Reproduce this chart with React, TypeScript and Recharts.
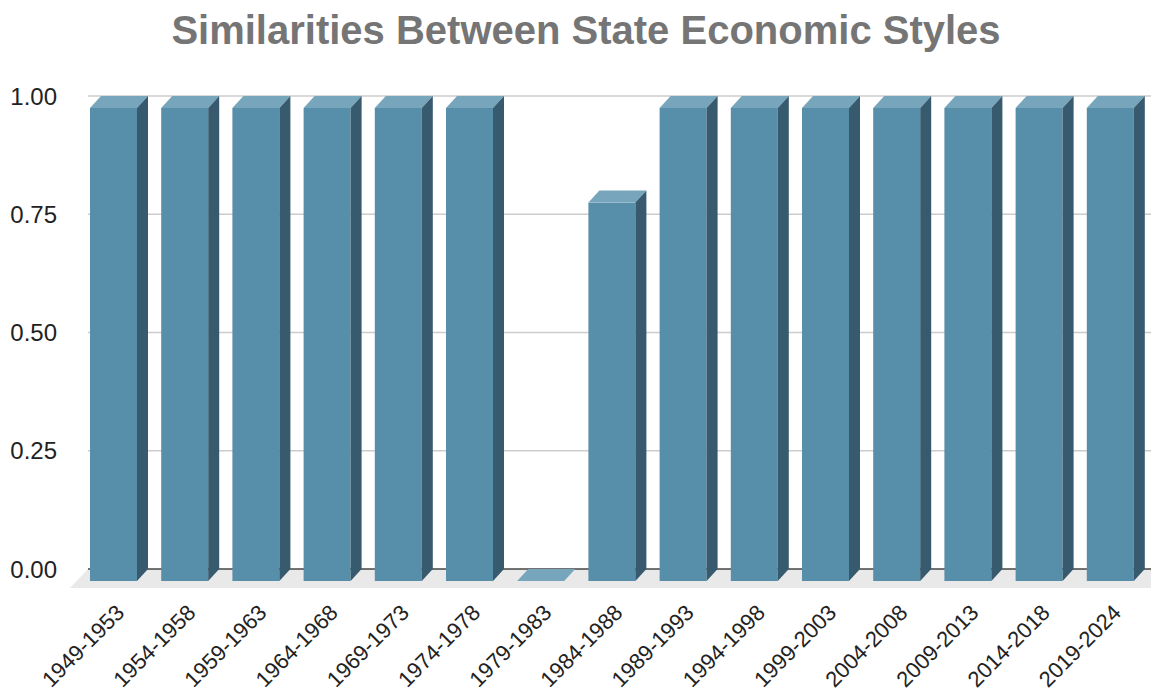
import React from 'react'
import {
  Bar,
  BarChart,
  CartesianGrid,
  ReferenceArea,
  XAxis,
  YAxis,
} from 'recharts'

const periods = [
  '1949-1953',
  '1954-1958',
  '1959-1963',
  '1964-1968',
  '1969-1973',
  '1974-1978',
  '1979-1983',
  '1984-1988',
  '1989-1993',
  '1994-1998',
  '1999-2003',
  '2004-2008',
  '2009-2013',
  '2014-2018',
  '2019-2024',
]
const similarity = [1, 1, 1, 1, 1, 1, 0, 0.8, 1, 1, 1, 1, 1, 1, 1]
const yTicks = [0, 0.25, 0.5, 0.75, 1]

const data = periods.map((period, i) => ({ period, value: similarity[i] }))

const FONT = '"Liberation Sans", Arial, sans-serif'
const DX = 11 // depth offset of the 3D bars
const DY = 12

const Bar3D = (props: any) => {
  const { x, y, width: w, height: h } = props
  if (x == null || y == null) return null
  const front = '#578fab'
  const side = '#375a6e'
  const top = '#77a5bb'
  return (
    <g>
      <rect x={x} y={y + DY} width={w} height={Math.max(h, 0)} fill={front} />
      <polygon
        points={`${x},${y + DY} ${x + DX},${y} ${x + w + DX},${y} ${x + w},${y + DY}`}
        fill={top}
      />
      {h > 0 && (
        <polygon
          points={`${x + w},${y + DY} ${x + w + DX},${y} ${x + w + DX},${y + h} ${x + w},${y + h + DY}`}
          fill={side}
        />
      )}
    </g>
  )
}

// floor of the 3D plot plus the dark zero line on its back edge
const Floor = (props: any) => {
  const { y } = props
  if (y == null) return null
  return (
    <g>
      <polygon points={`88,${y} 1151,${y} 1151,${y + 19} 70,${y + 19}`} fill="#e9e9e9" />
      <line x1={88} y1={y} x2={1151} y2={y} stroke="#444" strokeWidth={1.5} />
    </g>
  )
}

const gridLine = (props: any) => {
  const { y1, key } = props
  if (y1 > 560) return <g key={key} />
  return <line key={key} x1={88} y1={y1} x2={1151} y2={y1} stroke="#cccccc" strokeWidth={1.5} />
}

const XTick = (props: any) => {
  const { x, y, payload } = props
  const ax = x + 12
  const ay = y + 45
  return (
    <text
      x={ax}
      y={ay}
      textAnchor="end"
      transform={`rotate(-45, ${ax}, ${ay})`}
      fontSize={22}
      fontFamily={FONT}
      fill="#222"
    >
      {payload.value}
    </text>
  )
}

export default function App() {
  return (
    <div
      style={{
        position: 'absolute',
        left: 0,
        top: 0,
        width: 1151,
        height: 694,
        background: '#fff',
      }}
    >
      <div
        style={{
          position: 'absolute',
          left: 0,
          top: 8,
          width: 1172,
          textAlign: 'center',
          fontFamily: FONT,
          fontWeight: 'bold',
          fontSize: 40,
          color: '#757575',
        }}
      >
        Similarities Between State Economic Styles
      </div>
      <BarChart
        width={1151}
        height={694}
        data={data}
        margin={{ top: 96, right: 5, bottom: 0, left: 0 }}
        barSize={47}
      >
        <CartesianGrid vertical={false} horizontal={gridLine} />
        <ReferenceArea y1={0} y2={0} ifOverflow="visible" shape={Floor} />
        <XAxis
          dataKey="period"
          interval={0}
          height={125}
          tickSize={0}
          tickMargin={0}
          axisLine={false}
          tickLine={false}
          tick={<XTick />}
        />
        <YAxis
          domain={[0, 1]}
          ticks={yTicks}
          width={78}
          tickSize={0}
          tickMargin={21}
          axisLine={false}
          tickLine={false}
          tickFormatter={(v: number) => v.toFixed(2)}
          tick={{ fontSize: 24, fontFamily: FONT, fill: '#222' }}
        />
        <Bar dataKey="value" shape={Bar3D} isAnimationActive={false} />
      </BarChart>
    </div>
  )
}
